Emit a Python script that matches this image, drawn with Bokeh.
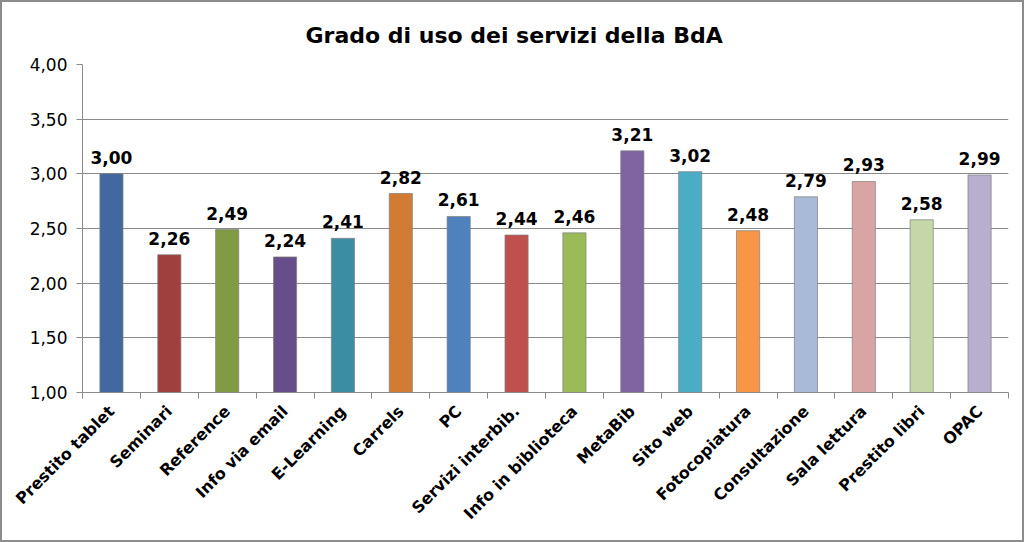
import math
from bokeh.plotting import figure
from bokeh.models import (Range1d, LinearAxis, FixedTicker,
                          CustomJSTickFormatter, ColumnDataSource, Title)
from bokeh.core.properties import value
from bokeh.embed import file_html
from bokeh.resources import INLINE

categories = ["Prestito tablet", "Seminari", "Reference", "Info via email", "E-Learning",
              "Carrels", "PC", "Servizi interbib.", "Info in biblioteca", "MetaBib",
              "Sito web", "Fotocopiatura", "Consultazione", "Sala lettura",
              "Prestito libri", "OPAC"]
values = [3.00, 2.26, 2.49, 2.24, 2.41, 2.82, 2.61, 2.44, 2.46, 3.21, 3.02, 2.48,
          2.79, 2.93, 2.58, 2.99]
colors = ["#4168a0", "#a0403e", "#809b44", "#674e8a", "#3a8da3", "#d17b35",
          "#4f81bd", "#c0504d", "#9bbb59", "#8064a2", "#4bacc6", "#f79646",
          "#a9bad9", "#d9a5a4", "#c5d7a7", "#b8aecd"]
labels = [f"{v:.2f}".replace(".", ",") for v in values]
y_ticks = [1.0, 1.5, 2.0, 2.5, 3.0, 3.5, 4.0]

FONT = "DejaVu Sans"
GRID = "#8a8a8a"

n = len(categories)
pos = [i + 0.5 for i in range(n)]
src = ColumnDataSource(dict(x=pos, cat=categories, val=values, col=colors, lab=labels))

p = figure(width=1024, height=542, output_backend="svg", toolbar_location=None,
           x_range=Range1d(0, n),
           y_range=Range1d(y_ticks[0], y_ticks[-1]),
           x_axis_location=None,
           min_border_left=80, min_border_right=18, min_border_top=62, min_border_bottom=152)
p.outline_line_color = None
p.background_fill_color = "white"
p.border_fill_color = "white"
p.styles = {"border": "2px solid #8c8c8c", "box-sizing": "border-box"}

p.title = Title(text="Grado di uso dei servizi della BdA", align="left",
                text_font=FONT, text_font_size="22px", text_font_style="bold",
                text_color="#000000", offset=223, standoff=34)

# y axis
yax = p.yaxis[0]
yax.ticker = FixedTicker(ticks=y_ticks)
yax.formatter = CustomJSTickFormatter(code="return tick.toFixed(2).replace('.', ',');")
yax.major_label_text_font = FONT
yax.major_label_text_font_size = "17px"
yax.major_label_text_color = "#000000"
yax.axis_line_color = GRID
yax.major_tick_line_color = GRID
yax.major_tick_out = 6
yax.major_tick_in = 0
yax.minor_tick_line_color = None
yax.major_label_standoff = 9

p.ygrid.ticker = FixedTicker(ticks=y_ticks)
p.ygrid.grid_line_color = GRID
p.xgrid.grid_line_color = None

# x tick axis at category boundaries (no labels)
tax = LinearAxis(ticker=FixedTicker(ticks=list(range(n + 1))))
tax.formatter = CustomJSTickFormatter(code="return '';")
tax.major_label_standoff = 0
tax.axis_line_color = GRID
tax.major_tick_line_color = GRID
tax.major_tick_out = 6
tax.major_tick_in = 0
tax.minor_tick_line_color = None
p.add_layout(tax, "below")

# category label axis
cax = LinearAxis(ticker=FixedTicker(ticks=pos))
cax.major_label_overrides = {x: c for x, c in zip(pos, categories)}
cax.major_label_orientation = math.pi / 4
cax.major_label_text_font = FONT
cax.major_label_text_font_size = "16px"
cax.major_label_text_font_style = "bold"
cax.major_label_text_color = "#000000"
cax.major_tick_line_color = None
cax.minor_tick_line_color = None
cax.axis_line_color = None
cax.major_label_standoff = 4
p.add_layout(cax, "below")

p.vbar(x="x", top="val", bottom=y_ticks[0], width=0.4, source=src,
       fill_color="col", line_color="#7f7f7f", line_alpha=0.7, line_width=1)

p.text(x="x", y="val", text="lab", source=src, text_align="center",
       text_baseline="bottom", y_offset=-10, text_font=value(FONT),
       text_font_size="17px", text_font_style="bold", text_color="#000000")

open("out.html", "w").write(file_html(p, INLINE))
